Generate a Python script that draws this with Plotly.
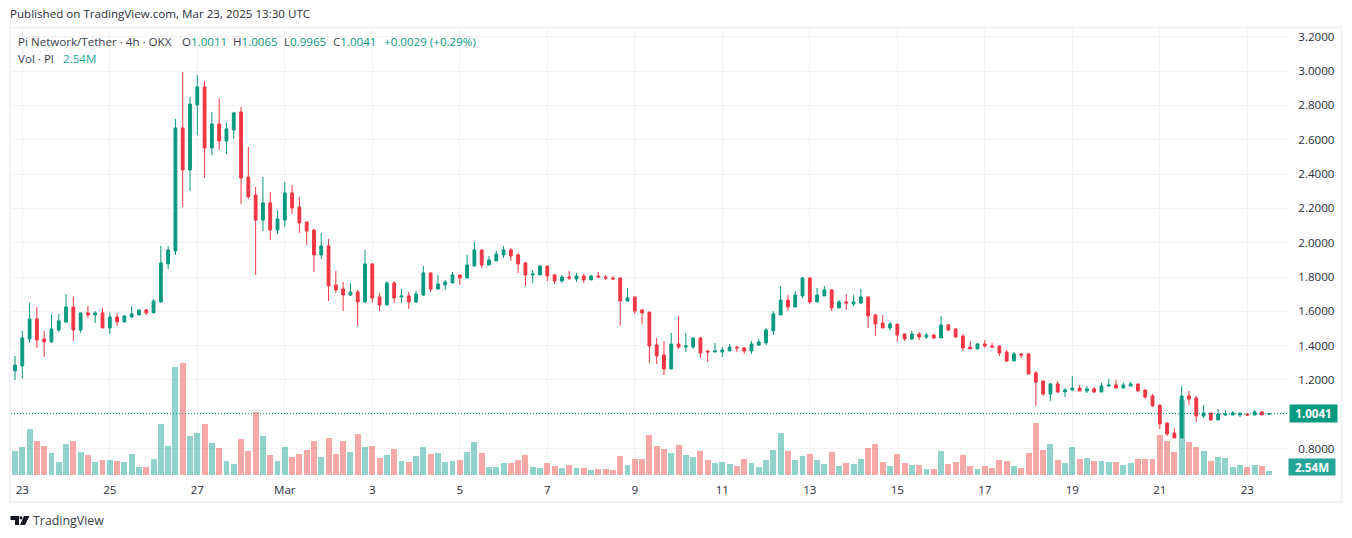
import pandas as pd
import plotly.graph_objects as go

W, H = 1352, 538
UP, DOWN = "#089981", "#f23645"
GRID = "#f3f3f3"
TXT = "#3a3e48"
FONT = "Open Sans"

opens = [
 1.253,1.282,1.439,1.556,1.439,1.422,1.491,1.538,1.625,1.491,1.591,1.579,1.591,1.503,1.567,1.538,1.567,1.579,1.608,1.591,
 1.655,1.876,1.952,2.669,2.424,2.803,2.908,2.552,2.692,2.593,2.657,2.762,2.383,2.278,2.132,2.232,2.074,2.132,2.290,2.208,
 2.121,2.074,1.929,1.981,1.754,1.730,1.695,1.713,1.655,1.876,1.684,1.637,1.765,1.684,1.690,1.655,1.695,1.824,1.730,1.754,
 1.765,1.812,1.794,1.864,1.958,1.870,1.894,1.929,1.958,1.929,1.882,1.812,1.812,1.864,1.812,1.777,1.800,1.789,1.806,1.783,
 1.806,1.800,1.794,1.794,1.660,1.684,1.608,1.596,1.404,1.346,1.264,1.410,1.392,1.392,1.445,1.369,1.363,1.363,1.369,1.392,
 1.387,1.369,1.404,1.416,1.486,1.579,1.666,1.625,1.690,1.794,1.655,1.690,1.725,1.620,1.655,1.643,1.649,1.684,1.579,1.532,
 1.503,1.526,1.468,1.439,1.468,1.451,1.462,1.445,1.521,1.497,1.456,1.392,1.381,1.410,1.398,1.398,1.363,1.311,1.352,1.352,
 1.241,1.194,1.118,1.177,1.130,1.142,1.153,1.136,1.148,1.130,1.165,1.171,1.153,1.165,1.177,1.142,1.107,1.054,0.949,0.891,
 0.862,1.107,1.095,0.990,1.008,0.967,0.996,0.996,0.996,1.002,0.996,1.014,1.0011]
highs = [
 1.340,1.486,1.649,1.625,1.486,1.579,1.585,1.701,1.684,1.591,1.631,1.602,1.620,1.591,1.591,1.579,1.631,1.608,1.614,1.672,
 1.981,1.981,2.721,2.995,2.849,2.977,2.943,2.762,2.843,2.698,2.762,2.791,2.558,2.325,2.383,2.296,2.185,2.354,2.336,2.267,
 2.121,2.080,2.057,2.022,1.835,1.771,1.765,1.725,1.958,1.882,1.707,1.777,1.777,1.730,1.713,1.719,1.864,1.824,1.812,1.783,
 1.829,1.812,1.929,2.004,1.958,1.923,1.952,1.981,1.969,1.940,1.888,1.841,1.870,1.864,1.818,1.812,1.835,1.824,1.818,1.812,
 1.829,1.812,1.806,1.800,1.736,1.684,1.614,1.596,1.445,1.427,1.474,1.573,1.474,1.445,1.451,1.375,1.416,1.392,1.410,1.398,
 1.392,1.427,1.439,1.503,1.602,1.748,1.695,1.719,1.800,1.800,1.736,1.748,1.730,1.666,1.701,1.695,1.730,1.684,1.585,1.579,
 1.538,1.526,1.468,1.486,1.480,1.474,1.468,1.573,1.526,1.503,1.468,1.427,1.416,1.433,1.416,1.398,1.375,1.363,1.357,1.357,
 1.253,1.194,1.183,1.194,1.153,1.223,1.171,1.165,1.159,1.183,1.206,1.200,1.183,1.188,1.177,1.142,1.118,1.054,0.955,0.920,
 1.165,1.136,1.107,1.054,1.008,1.031,1.025,1.019,1.014,1.008,1.025,1.019,1.0065]
lows = [
 1.200,1.206,1.416,1.387,1.334,1.416,1.480,1.532,1.427,1.474,1.561,1.532,1.503,1.468,1.515,1.538,1.561,1.579,1.579,1.591,
 1.650,1.847,1.929,2.208,2.301,2.628,2.377,2.511,2.540,2.517,2.604,2.226,2.255,1.812,2.068,2.016,2.051,2.092,2.167,2.057,
 1.987,1.829,1.905,1.660,1.707,1.602,1.690,1.515,1.649,1.649,1.602,1.637,1.649,1.649,1.614,1.649,1.690,1.713,1.725,1.725,
 1.765,1.754,1.794,1.864,1.853,1.870,1.894,1.911,1.894,1.824,1.748,1.765,1.812,1.777,1.760,1.765,1.783,1.771,1.765,1.783,
 1.800,1.783,1.783,1.515,1.660,1.585,1.526,1.299,1.293,1.229,1.264,1.381,1.363,1.381,1.328,1.305,1.363,1.334,1.369,1.363,
 1.352,1.352,1.398,1.404,1.462,1.579,1.602,1.625,1.678,1.643,1.655,1.690,1.602,1.620,1.608,1.631,1.643,1.503,1.456,1.503,
 1.486,1.422,1.427,1.433,1.433,1.439,1.439,1.445,1.486,1.445,1.369,1.381,1.381,1.387,1.392,1.340,1.305,1.311,1.328,1.235,
 1.049,1.107,1.078,1.124,1.101,1.136,1.136,1.124,1.124,1.130,1.159,1.153,1.153,1.165,1.130,1.089,1.043,0.915,0.874,0.862,
 0.862,1.054,0.955,0.979,0.961,0.967,0.990,0.996,0.984,0.990,0.996,0.996,0.9965]
closes = [
 1.287,1.445,1.556,1.433,1.422,1.497,1.544,1.625,1.491,1.591,1.579,1.591,1.503,1.567,1.538,1.573,1.585,1.608,1.591,1.660,
 1.882,1.958,2.669,2.424,2.808,2.908,2.552,2.692,2.593,2.663,2.756,2.377,2.267,2.132,2.232,2.074,2.138,2.290,2.202,2.115,
 2.068,1.929,1.981,1.748,1.725,1.695,1.713,1.655,1.876,1.678,1.637,1.765,1.678,1.690,1.655,1.701,1.824,1.730,1.760,1.771,
 1.812,1.794,1.870,1.958,1.870,1.899,1.934,1.958,1.923,1.876,1.812,1.818,1.864,1.806,1.777,1.800,1.794,1.806,1.783,1.806,
 1.800,1.794,1.789,1.660,1.678,1.602,1.591,1.398,1.340,1.264,1.410,1.392,1.398,1.445,1.357,1.363,1.369,1.375,1.392,1.387,
 1.369,1.410,1.422,1.491,1.585,1.666,1.625,1.695,1.794,1.655,1.695,1.725,1.620,1.655,1.649,1.655,1.684,1.573,1.526,1.503,
 1.526,1.462,1.439,1.468,1.451,1.462,1.445,1.521,1.491,1.451,1.387,1.381,1.410,1.398,1.392,1.357,1.311,1.352,1.346,1.235,
 1.188,1.118,1.177,1.130,1.142,1.153,1.136,1.148,1.130,1.165,1.171,1.153,1.171,1.177,1.136,1.101,1.049,0.944,0.885,0.862,
 1.107,1.089,0.990,1.008,0.967,1.002,1.002,1.008,1.002,0.996,1.014,0.996,1.0041]
volumes_m = [
 15.2,17.8,29.2,21.6,18.4,14.0,8.3,19.7,21.6,14.6,12.7,8.3,9.5,9.5,8.9,8.3,13.3,5.1,5.1,10.2,
 32.4,18.4,68.6,71.1,24.8,26.7,32.4,20.3,17.1,8.9,7.0,22.9,15.2,40.0,24.8,12.7,8.9,17.8,11.4,13.3,
 15.9,21.6,11.4,23.5,13.3,21.6,14.6,26.0,17.8,18.4,10.8,12.7,16.5,8.9,8.3,12.1,17.8,13.3,14.0,8.3,
 8.9,9.5,14.6,21.0,14.0,5.1,5.1,7.6,7.6,9.5,12.7,5.1,4.4,7.6,5.7,4.4,6.4,4.4,4.4,3.2,
 3.8,3.8,3.2,12.1,6.4,10.2,10.2,25.4,18.4,16.5,14.0,19.1,12.7,11.4,15.2,9.5,7.6,8.3,7.0,5.7,
 10.2,7.6,5.1,9.5,15.9,26.7,15.2,9.5,12.1,13.3,9.5,7.0,14.6,5.7,7.6,7.0,10.2,17.1,19.7,8.3,
 5.7,13.3,7.6,6.4,6.4,3.8,3.8,15.2,7.0,8.3,12.7,5.7,3.8,5.7,4.4,9.5,8.9,5.7,4.4,14.0,
 33.0,15.9,19.7,9.5,7.6,17.8,10.2,10.8,8.9,8.9,8.3,8.3,6.4,7.6,10.2,10.2,10.2,25.4,21.6,14.6,
 47.6,21.0,17.8,15.2,8.9,11.4,10.8,5.1,6.4,5.1,6.4,5.7,2.54]
price_ticks = [3.2,3.0,2.8,2.6,2.4,2.2,2.0,1.8,1.6,1.4,1.2,1.0,0.8]
price_labels = ["3.2000","3.0000","2.8000","2.6000","2.4000","2.2000","2.0000","1.8000","1.6000","1.4000","1.2000","","0.8000"]
date_ticks = ["2025-02-23","2025-02-25","2025-02-27","2025-03-01","2025-03-03","2025-03-05","2025-03-07","2025-03-09",
              "2025-03-11","2025-03-13","2025-03-15","2025-03-17","2025-03-19","2025-03-21","2025-03-23"]
date_labels = ["23","25","27","Mar","3","5","7","9","11","13","15","17","19","21","23"]

assert len(opens)==len(highs)==len(lows)==len(closes)==len(volumes_m)==173, (len(opens),len(highs),len(lows),len(closes),len(volumes_m))
times = pd.date_range("2025-02-22 20:00", periods=173, freq="4h")

# pixel frame of the chart pane
L, R, T, B = 11, 1287, 28, 475
def px(x): return (x - L) / (R - L)
def py(y): return (B - y) / (B - T)

PX_DAY = 87.5 / 2
t0 = pd.Timestamp("2025-02-23")
x_range = [t0 + pd.Timedelta(days=(L - 22.3) / PX_DAY), t0 + pd.Timedelta(days=(R - 22.3) / PX_DAY)]
P_PER_PX = 1 / 171.6
y_range = [1 + (414.3 - B) * P_PER_PX, 1 + (414.3 - T) * P_PER_PX]
v_range = [0, (B - T) * 0.635]

fig = go.Figure()
fig.add_trace(go.Bar(
    x=times, y=volumes_m, yaxis="y", width=5.9 * 86400000 / PX_DAY,
    marker=dict(color=["rgba(38,166,154,0.5)" if c >= o else "rgba(239,83,80,0.5)" for o, c in zip(opens, closes)], line_width=0),
    hoverinfo="skip", showlegend=False))
fig.add_trace(go.Candlestick(
    x=times, open=opens, high=highs, low=lows, close=closes, yaxis="y2",
    increasing=dict(line=dict(color=UP, width=1), fillcolor=UP),
    decreasing=dict(line=dict(color=DOWN, width=1), fillcolor=DOWN),
    whiskerwidth=0, hoverinfo="skip", showlegend=False))

shapes = [
    dict(type="rect", xref="paper", yref="paper", x0=px(10), x1=px(1341.5), y0=py(502), y1=py(27.5),
         line=dict(color="#f2f3f5", width=2), fillcolor="rgba(0,0,0,0)", layer="below"),
    dict(type="line", xref="paper", yref="y2", x0=0, x1=1, y0=closes[-1], y1=closes[-1],
         line=dict(color=UP, width=1, dash="1px,2px")),
]
# TradingView logo
shapes += [
    dict(type="path", xref="paper", yref="paper", line_width=0, fillcolor="#131722",
         path=f"M {px(10.5)} {py(516)} L {px(19)} {py(516)} L {px(19)} {py(525)} L {px(15)} {py(525)} L {px(15)} {py(520)} L {px(10.5)} {py(520)} Z"),
    dict(type="circle", xref="paper", yref="paper", line_width=0, fillcolor="#131722",
         x0=px(19.5), x1=px(22.5), y0=py(519.5), y1=py(516)),
    dict(type="path", xref="paper", yref="paper", line_width=0, fillcolor="#131722",
         path=f"M {px(24)} {py(516)} L {px(29.5)} {py(516)} L {px(25)} {py(525)} L {px(20)} {py(525)} Z"),
]

def g(s): return f'<span style="color:{UP}">{s}</span>'
ann = [
    dict(text="Published on TradingView.com, Mar 23, 2025 13:30 UTC", x=px(8), y=py(14), size=11.6, color="#2a2e39"),
    dict(text="Pi Network/Tether · 4h · OKX", x=px(16), y=py(41), size=11.6, color=TXT),
    dict(text="O" + g("1.0011"), x=px(180), y=py(41), size=11.6, color=TXT),
    dict(text="H" + g("1.0065"), x=px(231), y=py(41), size=11.6, color=TXT),
    dict(text="L" + g("0.9965"), x=px(282), y=py(41), size=11.6, color=TXT),
    dict(text="C" + g("1.0041"), x=px(331), y=py(41), size=11.6, color=TXT),
    dict(text=g("+0.0029 (+0.29%)"), x=px(382), y=py(41), size=11.6, color=UP),
    dict(text="Vol · PI", x=px(16), y=py(58.5), size=11.6, color=TXT),
    dict(text='<span style="color:#26a69a">2.54M</span>', x=px(61), y=py(58.5), size=11.6, color="#26a69a"),
    dict(text="TradingView", x=px(31), y=py(520.5), size=12.4, color="#3a3e48"),
]
annotations = [dict(text=a["text"], x=a["x"], y=a["y"], xref="paper", yref="paper", xanchor="left", yanchor="middle",
                    showarrow=False, font=dict(family=FONT, size=a["size"], color=a["color"])) for a in ann]
annotations += [
    dict(text=f"<b>{closes[-1]:.4f}</b>", xref="paper", yref="paper", x=px(1313), y=py(413.5), xanchor="center", yanchor="middle",
         width=47, height=17, bgcolor=UP, showarrow=False, borderpad=0, font=dict(family=FONT, size=11.6, color="white")),
    dict(text=f"<b>{volumes_m[-1]:.2f}M</b>", xref="paper", yref="paper", x=px(1312), y=py(467), xanchor="center", yanchor="middle",
         width=46, height=16, bgcolor="#26a69a", showarrow=False, borderpad=0, font=dict(family=FONT, size=11.6, color="white")),
]

fig.update_layout(
    width=W, height=H, autosize=False,
    margin=dict(l=L, r=W - R, t=T, b=H - B, pad=0),
    paper_bgcolor="white", plot_bgcolor="white",
    bargap=0, boxgap=0.45, showlegend=False, hovermode=False,
    shapes=shapes, annotations=annotations,
    xaxis=dict(type="date", range=x_range, rangeslider=dict(visible=False), tickmode="array",
               tickvals=date_ticks, ticktext=date_labels, showgrid=True, gridcolor=GRID, gridwidth=1,
               zeroline=False, showline=False, ticks="outside", ticklen=4, tickcolor="rgba(0,0,0,0)",
               tickfont=dict(family=FONT, size=11.6, color="#2a2e39")),
    yaxis=dict(range=v_range, visible=False, fixedrange=True),
    yaxis2=dict(range=y_range, overlaying="y", side="right", anchor="x", tickmode="array",
                tickvals=price_ticks, ticktext=price_labels, showgrid=True, gridcolor=GRID, gridwidth=1,
                zeroline=False, showline=False, ticks="outside", ticklen=8, tickcolor="rgba(0,0,0,0)",
                tickfont=dict(family=FONT, size=11.6, color="#2a2e39")),
)
fig.write_html("out.html", config=dict(displayModeBar=False),
               post_script="document.body.style.margin='0';document.documentElement.style.overflow='hidden';")
